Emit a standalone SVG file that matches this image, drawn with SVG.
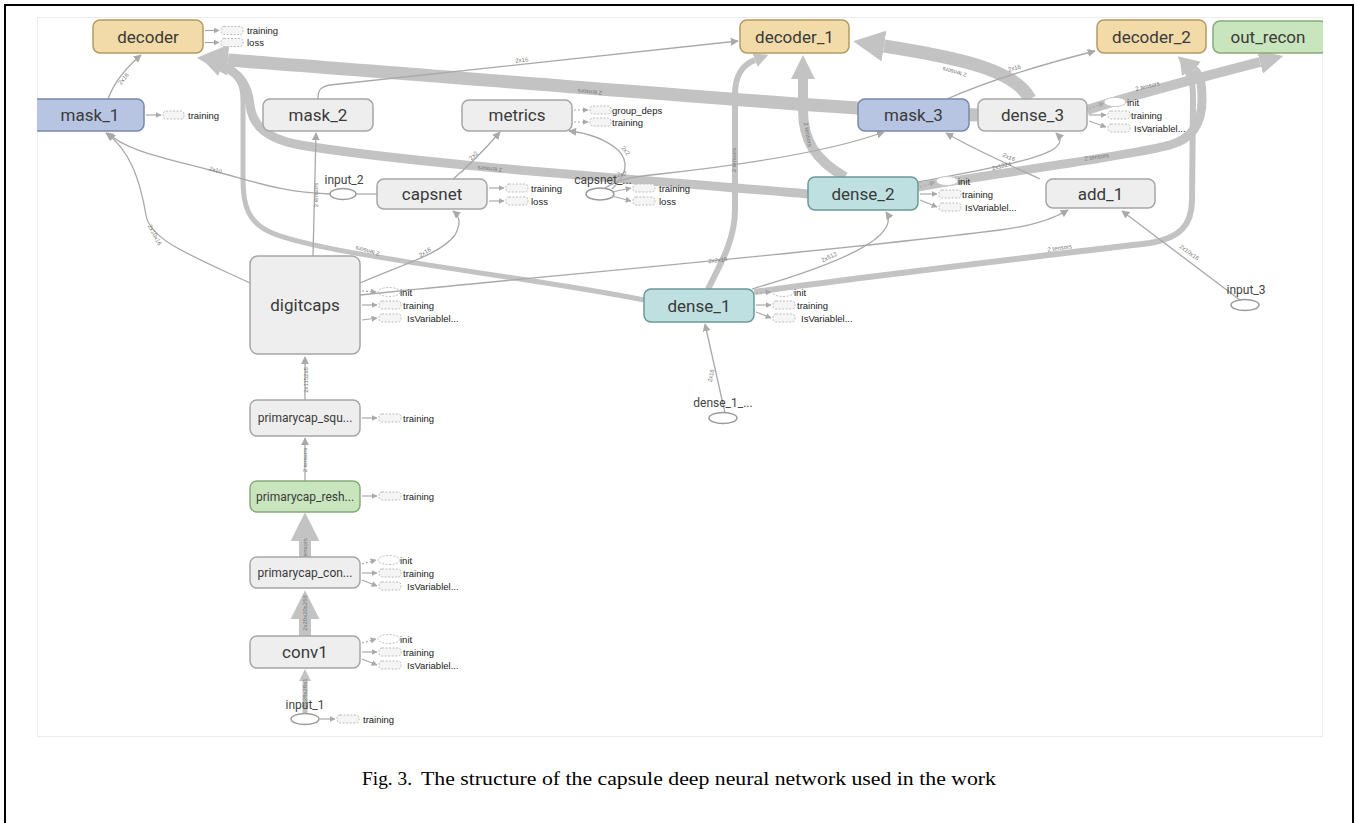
<svg xmlns="http://www.w3.org/2000/svg" width="1358" height="823" viewBox="0 0 1358 823">
<style>
.nt{font-family:Roboto,"Liberation Sans",sans-serif;fill:#3a3a3a;text-anchor:middle}
.big{font-size:17px}
.sm{font-size:12px}
.lbl{font-family:Roboto,"Liberation Sans",sans-serif;font-size:12px;fill:#444;text-anchor:middle}
.ax{font-family:"Liberation Sans",Arial,sans-serif;font-size:9.5px;fill:#222}
.el{font-family:"Liberation Sans",Arial,sans-serif;font-size:6px;fill:#777;text-anchor:middle}
.th{fill:none;stroke:#a9a9a9;stroke-width:1.3}
.bd{fill:none;stroke:#c3c3c3}
.al{fill:none;stroke:#a9a9a9;stroke-width:1.2}
.dot{stroke-dasharray:2,2}
.dr{fill:#f5f5f5;stroke:#bdbdbd;stroke-width:1;stroke-dasharray:2,1.5}
.de{fill:none;stroke:#bdbdbd;stroke-width:1;stroke-dasharray:2,1.5}
.we{fill:#fff;stroke:#c8c8c8;stroke-width:1}
.gr{fill:#eeeeee;stroke:#a6a6a6;stroke-width:1.5}
.tan{fill:#f2dba8;stroke:#b49a62;stroke-width:1.5}
.blu{fill:#b8c5e2;stroke:#7888ab;stroke-width:1.5}
.tea{fill:#bfe0e0;stroke:#6e9898;stroke-width:1.5}
.grn{fill:#c9e5bd;stroke:#86aa7a;stroke-width:1.5}
.ell{fill:#fff;stroke:#9a9a9a;stroke-width:1.5}
</style>
<defs>
<marker id="at" viewBox="0 0 10 10" refX="9" refY="5" markerWidth="8" markerHeight="8" orient="auto" markerUnits="userSpaceOnUse"><path d="M0,0 L10,5 L0,10 z" fill="#a9a9a9"/></marker>
<marker id="as" viewBox="0 0 10 10" refX="9" refY="5" markerWidth="6" markerHeight="6" orient="auto" markerUnits="userSpaceOnUse"><path d="M0,0 L10,5 L0,10 z" fill="#a9a9a9"/></marker>
<marker id="ab" viewBox="0 0 10 10" refX="0" refY="5" markerWidth="2.4" markerHeight="2.4" orient="auto" markerUnits="strokeWidth"><path d="M0,0 L10,5 L0,10 z" fill="#c3c3c3"/></marker>
<clipPath id="panel"><rect x="37" y="17" width="1286" height="720"/></clipPath>
</defs>
<rect x="0" y="0" width="1358" height="823" fill="#fff"/>
<rect x="5" y="5" width="1348" height="830" fill="none" stroke="#000" stroke-width="2"/>
<rect x="37.5" y="17.5" width="1285" height="719" fill="none" stroke="#ececec" stroke-width="1"/>

<g clip-path="url(#panel)">
<g id="connectors">
<!-- thick bands -->
<path class="bd" stroke-width="13" marker-end="url(#ab)" d="M978,115 C820,108 520,82 228,60"/>
<path class="bd" stroke-width="9" marker-end="url(#ab)" d="M808,194 C650,180 420,165 300,145 C262,138 252,122 250,105 C248,85 238,72 222,66"/>
<path class="bd" stroke-width="5" marker-end="url(#ab)" d="M644,300 C520,275 320,255 270,232 C248,222 243,205 243,180 L243,100 C243,85 238,75 225,68"/>
<path class="bd" stroke-width="6" marker-end="url(#ab)" d="M708,289 C720,265 735,240 735,210 L735,95 C735,75 742,65 755,60"/>
<path class="bd" stroke-width="10" marker-end="url(#ab)" d="M845,177 C815,160 803,140 803,110 L803,79"/>
<path class="bd" stroke-width="13" marker-end="url(#ab)" d="M1030,99 C1015,70 960,58 884,46"/>
<path class="bd" stroke-width="10" marker-end="url(#ab)" d="M1087,110 C1130,96 1190,80 1260,62"/>
<path class="bd" stroke-width="9" marker-end="url(#ab)" d="M918,187 C1000,172 1120,158 1170,145 C1195,138 1202,120 1202,100 C1202,82 1200,75 1194,70"/>
<path class="bd" stroke-width="6" marker-end="url(#ab)" d="M754,292 C900,272 1050,255 1150,243 C1180,238 1192,225 1192,200 L1193,100 C1193,85 1192,78 1188,72"/>
<path class="bd" stroke-width="12" marker-end="url(#ab)" d="M305,557 L305,541"/>
<path class="bd" stroke-width="12" marker-end="url(#ab)" d="M305,636 L305,619"/>
<path class="bd" stroke-width="5" marker-end="url(#ab)" d="M305,714 L305,681"/>
<!-- thin edges -->
<path class="th" marker-end="url(#at)" d="M108,99 C115,80 128,66 141,55"/>
<path class="th" marker-end="url(#at)" d="M250,283 C190,255 150,240 146,215 C140,180 130,150 106,133"/>
<path class="th" marker-end="url(#at)" d="M330,194 C280,192 260,183 210,170 C160,157 125,150 108,133"/>
<path class="th" d="M356,194 L377,194"/>
<path class="th" marker-end="url(#at)" d="M313,256 L316,133"/>
<path class="th" marker-end="url(#at)" d="M318,99 C318,90 320,87 330,85 L738,41"/>
<path class="th" marker-end="url(#at)" d="M360,283 C400,265 440,255 455,235 C462,222 459,216 453,211"/>
<path class="th" marker-end="url(#at)" d="M452,180 C470,165 486,148 500,132"/>
<path class="th" marker-end="url(#at)" d="M612,189 C626,176 630,162 618,150 C605,139 588,133 569,131"/>
<path class="th" marker-end="url(#at)" d="M605,188 C620,178 640,176 660,174 C760,163 840,148 884,132"/>
<path class="th" marker-end="url(#at)" d="M360,295 C500,280 800,255 1000,230 C1040,225 1058,216 1068,210"/>
<path class="th" marker-end="url(#at)" d="M752,289 C800,275 860,255 880,235 C890,225 890,218 886,212"/>
<path class="th" marker-end="url(#at)" d="M918,182 C980,170 1040,160 1055,148 C1062,142 1061,138 1056,133"/>
<path class="th" marker-end="url(#at)" d="M1040,179 C1010,165 975,150 946,133"/>
<path class="th" marker-end="url(#at)" d="M1240,300 L1122,211"/>
<path class="th" marker-end="url(#at)" d="M725,413 L705,324"/>
<path class="th" marker-end="url(#at)" d="M947,99 C990,80 1040,65 1095,51"/>
<path class="th" marker-end="url(#at)" d="M305,400 L305,357"/>
<path class="th" marker-end="url(#at)" d="M305,481 L305,438"/>
<!-- edge labels -->
<text class="el" transform="translate(125,80) rotate(-50)">2x16</text>
<text class="el" transform="translate(153,236) rotate(62)">2x10x16</text>
<text class="el" transform="translate(215,172) rotate(16)">2x10</text>
<text class="el" transform="translate(318,195) rotate(-90)">2 tensors</text>
<text class="el" transform="translate(522,62) rotate(-6)">2x16</text>
<text class="el" transform="translate(426,254) rotate(-32)">2x16</text>
<text class="el" transform="translate(475,157) rotate(-45)">2x2</text>
<text class="el" transform="translate(624,152) rotate(50)">2x2</text>
<text class="el" transform="translate(622,176) rotate(-8)">2x2</text>
<text class="el" transform="translate(718,262) rotate(-7)">2x2x16</text>
<text class="el" transform="translate(830,259) rotate(-25)">2x512</text>
<text class="el" transform="translate(1002,168) rotate(-14)">2x1024</text>
<text class="el" transform="translate(1008,159) rotate(25)">2x16</text>
<text class="el" transform="translate(1188,254) rotate(37)">2x10x16</text>
<text class="el" transform="translate(713,376) rotate(-78)">2x16</text>
<text class="el" transform="translate(1015,70) rotate(-16)">2x16</text>
<text class="el" transform="translate(308,380) rotate(-90)">2x1152x8</text>
<text class="el" transform="translate(307,460) rotate(-90)">2 tensors</text>
<text class="el" transform="translate(307,548) rotate(-90)">tensors</text>
<text class="el" transform="translate(307,613) rotate(-90)">2x20x20x256</text>
<text class="el" transform="translate(307,693) rotate(-90)">2x28x28x1</text>
<text class="el" transform="translate(590,90) rotate(185)">2 tensors</text>
<text class="el" transform="translate(490,167) rotate(185)">2 tensors</text>
<text class="el" transform="translate(368,249) rotate(194)">2 tensors</text>
<text class="el" transform="translate(736,160) rotate(-90)">2 tensors</text>
<text class="el" transform="translate(806,135) rotate(80)">2 tensors</text>
<text class="el" transform="translate(955,70) rotate(195)">2 tensors</text>
<text class="el" transform="translate(1148,88) rotate(-14)">2 tensors</text>
<text class="el" transform="translate(1097,159) rotate(-8)">2 tensors</text>
<text class="el" transform="translate(1060,250) rotate(-8)">2 tensors</text>
</g>

<g id="decoder">
<rect class="tan" x="93" y="20" width="110" height="33" rx="7"/>
<text class="nt big" x="148" y="42.5">decoder</text>
<path class="al" marker-end="url(#as)" d="M205,30.5 L219,30.5"/><rect class="dr" x="221" y="26.5" width="22" height="8" rx="3"/><text class="ax" x="247" y="34">training</text>
<path class="al" marker-end="url(#as)" d="M205,42.5 L219,42.5"/><rect class="dr" x="221" y="38.5" width="22" height="8" rx="3"/><text class="ax" x="247" y="46">loss</text>
</g>
<g id="decoder_1">
<rect class="tan" x="740" y="20" width="109" height="33" rx="7"/>
<text class="nt big" x="794.5" y="42.5">decoder_1</text>
</g>
<g id="decoder_2">
<rect class="tan" x="1097" y="20" width="109" height="33" rx="7"/>
<text class="nt big" x="1151.5" y="42.5">decoder_2</text>
</g>
<g id="out_recon">
<rect class="grn" x="1213" y="21" width="114" height="32" rx="7"/>
<text class="nt big" x="1268" y="42.5">out_recon</text>
</g>
<g id="mask_1">
<rect class="blu" x="30" y="99" width="114" height="32" rx="7"/>
<text class="nt big" x="90" y="121">mask_1</text>
<path class="al" marker-end="url(#as)" d="M146,115 L161,115"/><rect class="dr" x="163" y="111" width="21" height="8" rx="3"/><text class="ax" x="188" y="118.5">training</text>
</g>
<g id="mask_2">
<rect class="gr" x="263" y="99" width="110" height="32" rx="7"/>
<text class="nt big" x="318" y="121">mask_2</text>
</g>
<g id="metrics">
<rect class="gr" x="462" y="100" width="110" height="31" rx="7"/>
<text class="nt big" x="517" y="121">metrics</text>
<path class="al dot" marker-end="url(#as)" d="M574,110 L588,110"/><rect class="dr" x="590" y="106" width="21" height="8" rx="3"/><text class="ax" x="612" y="113.5">group_deps</text>
<path class="al dot" marker-end="url(#as)" d="M574,122 L588,122"/><rect class="dr" x="590" y="118" width="21" height="8" rx="3"/><text class="ax" x="612" y="125.5">training</text>
</g>
<g id="mask_3">
<rect class="blu" x="858" y="99" width="111" height="32" rx="7"/>
<text class="nt big" x="913.5" y="121">mask_3</text>
</g>
<g id="dense_3">
<rect class="gr" x="978" y="99" width="109" height="32" rx="7"/>
<text class="nt big" x="1032.5" y="121">dense_3</text>
<path class="al dot" marker-end="url(#as)" d="M1089,109 L1104,103"/><ellipse class="we" cx="1115" cy="102" rx="11" ry="4.5"/><text class="ax" x="1127" y="105.5">init</text>
<path class="al" marker-end="url(#as)" d="M1089,115 L1106,115"/><rect class="dr" x="1108" y="111" width="22" height="8" rx="3"/><text class="ax" x="1131" y="118.5">training</text>
<path class="al" marker-end="url(#as)" d="M1089,121 L1106,127"/><rect class="dr" x="1108" y="124" width="22" height="8" rx="3"/><text class="ax" x="1134" y="131.5">IsVariablel...</text>
</g>
<g id="capsnet">
<rect class="gr" x="377" y="179" width="110" height="30" rx="7"/>
<text class="nt big" x="432" y="200">capsnet</text>
<path class="al" marker-end="url(#as)" d="M489,188 L504,188"/><rect class="dr" x="506" y="184" width="22" height="8" rx="3"/><text class="ax" x="531" y="191.5">training</text>
<path class="al" marker-end="url(#as)" d="M489,201 L504,201"/><rect class="dr" x="506" y="197" width="22" height="8" rx="3"/><text class="ax" x="531" y="204.5">loss</text>
</g>
<g id="input_2">
<ellipse class="ell" cx="343" cy="194" rx="13" ry="5.5"/>
<text class="lbl" x="344" y="184">input_2</text>
</g>
<g id="capsnet_">
<ellipse class="ell" cx="600" cy="194" rx="14" ry="6"/>
<text class="lbl" x="603" y="184">capsnet_...</text>
<path class="al" marker-end="url(#as)" d="M612,192 L631,188"/><rect class="dr" x="633" y="184" width="22" height="8" rx="3"/><text class="ax" x="659" y="191.5">training</text>
<path class="al" marker-end="url(#as)" d="M612,196 L631,201"/><rect class="dr" x="633" y="197" width="22" height="8" rx="3"/><text class="ax" x="659" y="204.5">loss</text>
</g>
<g id="dense_2">
<rect class="tea" x="808" y="177" width="110" height="33" rx="7"/>
<text class="nt big" x="863" y="199.5">dense_2</text>
<path class="al dot" marker-end="url(#as)" d="M920,187 L935,182"/><ellipse class="we" cx="947" cy="181" rx="11" ry="4.5"/><text class="ax" x="958" y="184.5">init</text>
<path class="al" marker-end="url(#as)" d="M920,194 L937,194"/><rect class="dr" x="939" y="190" width="22" height="8" rx="3"/><text class="ax" x="962" y="197.5">training</text>
<path class="al" marker-end="url(#as)" d="M920,200 L937,207"/><rect class="dr" x="939" y="203" width="22" height="8" rx="3"/><text class="ax" x="965" y="210.5">IsVariablel...</text>
</g>
<g id="add_1">
<rect class="gr" x="1046" y="179" width="109" height="29" rx="7"/>
<text class="nt big" x="1100.5" y="199.5">add_1</text>
</g>
<g id="input_3">
<ellipse class="ell" cx="1245" cy="305" rx="14" ry="5.5"/>
<text class="lbl" x="1246" y="294">input_3</text>
</g>
<g id="digitcaps">
<rect class="gr" x="250" y="256" width="110" height="98" rx="8"/>
<text class="nt big" x="305" y="311">digitcaps</text>
<path class="al dot" marker-end="url(#as)" d="M362,291 L376,292"/><ellipse class="de" cx="389" cy="292" rx="11" ry="4.5"/><text class="ax" x="400" y="295.5">init</text>
<path class="al" marker-end="url(#as)" d="M362,305 L377,305"/><rect class="dr" x="379" y="301" width="22" height="8" rx="3"/><text class="ax" x="403" y="308.5">training</text>
<path class="al" marker-end="url(#as)" d="M362,320 L377,318"/><rect class="dr" x="379" y="314" width="22" height="8" rx="3"/><text class="ax" x="407" y="321.5">IsVariablel...</text>
</g>
<g id="dense_1">
<rect class="tea" x="644" y="289" width="110" height="33" rx="7"/>
<text class="nt big" x="699" y="311.5">dense_1</text>
<path class="al dot" marker-end="url(#as)" d="M756,293 L771,292"/><ellipse class="de" cx="783" cy="292" rx="11" ry="4.5"/><text class="ax" x="794" y="295.5">init</text>
<path class="al" marker-end="url(#as)" d="M756,305 L771,305"/><rect class="dr" x="773" y="301" width="22" height="8" rx="3"/><text class="ax" x="797" y="308.5">training</text>
<path class="al" marker-end="url(#as)" d="M756,312 L771,318"/><rect class="dr" x="773" y="314" width="22" height="8" rx="3"/><text class="ax" x="801" y="321.5">IsVariablel...</text>
</g>
<g id="dense_1_">
<ellipse class="ell" cx="723" cy="418" rx="14" ry="5.5"/>
<text class="lbl" x="723" y="407">dense_1_...</text>
</g>
<g id="primarycap_squ">
<rect class="gr" x="250" y="400" width="110" height="36" rx="7"/>
<text class="nt sm" x="305" y="422">primarycap_squ...</text>
<path class="al" marker-end="url(#as)" d="M362,418 L377,418"/><rect class="dr" x="379" y="414" width="22" height="8" rx="3"/><text class="ax" x="403" y="421.5">training</text>
</g>
<g id="primarycap_resh">
<rect class="grn" x="250" y="481" width="110" height="31" rx="7"/>
<text class="nt sm" x="305" y="501">primarycap_resh...</text>
<path class="al" marker-end="url(#as)" d="M362,496 L377,496"/><rect class="dr" x="379" y="492" width="22" height="8" rx="3"/><text class="ax" x="403" y="499.5">training</text>
</g>
<g id="primarycap_con">
<rect class="gr" x="250" y="557" width="110" height="31" rx="7"/>
<text class="nt sm" x="305" y="577">primarycap_con...</text>
<path class="al dot" marker-end="url(#as)" d="M362,564 L376,560"/><ellipse class="de" cx="389" cy="560" rx="11" ry="4.5"/><text class="ax" x="400" y="563.5">init</text>
<path class="al" marker-end="url(#as)" d="M362,573 L377,573"/><rect class="dr" x="379" y="569" width="22" height="8" rx="3"/><text class="ax" x="403" y="576.5">training</text>
<path class="al" marker-end="url(#as)" d="M362,580 L377,586"/><rect class="dr" x="379" y="582" width="22" height="8" rx="3"/><text class="ax" x="407" y="589.5">IsVariablel...</text>
</g>
<g id="conv1">
<rect class="gr" x="250" y="636" width="110" height="32" rx="7"/>
<text class="nt big" x="305" y="658">conv1</text>
<path class="al dot" marker-end="url(#as)" d="M362,643 L376,639"/><ellipse class="de" cx="389" cy="639" rx="11" ry="4.5"/><text class="ax" x="400" y="642.5">init</text>
<path class="al" marker-end="url(#as)" d="M362,652 L377,652"/><rect class="dr" x="379" y="648" width="22" height="8" rx="3"/><text class="ax" x="403" y="655.5">training</text>
<path class="al" marker-end="url(#as)" d="M362,659 L377,665"/><rect class="dr" x="379" y="661" width="22" height="8" rx="3"/><text class="ax" x="407" y="668.5">IsVariablel...</text>
</g>
<g id="input_1">
<ellipse class="ell" cx="305" cy="719" rx="14" ry="5.5"/>
<text class="lbl" x="305" y="709">input_1</text>
<path class="al" marker-end="url(#as)" d="M320,719 L335,719"/><rect class="dr" x="337" y="715" width="22" height="8" rx="3"/><text class="ax" x="363" y="722.5">training</text>
</g>
</g>

<text x="362" y="785" font-family="'Liberation Serif','Times New Roman',serif" font-size="19" fill="#000" textLength="50" lengthAdjust="spacingAndGlyphs">Fig. 3.</text>
<text x="421" y="785" font-family="'Liberation Serif','Times New Roman',serif" font-size="19" fill="#000" textLength="575" lengthAdjust="spacingAndGlyphs">The structure of the capsule deep neural network used in the work</text>
</svg>
